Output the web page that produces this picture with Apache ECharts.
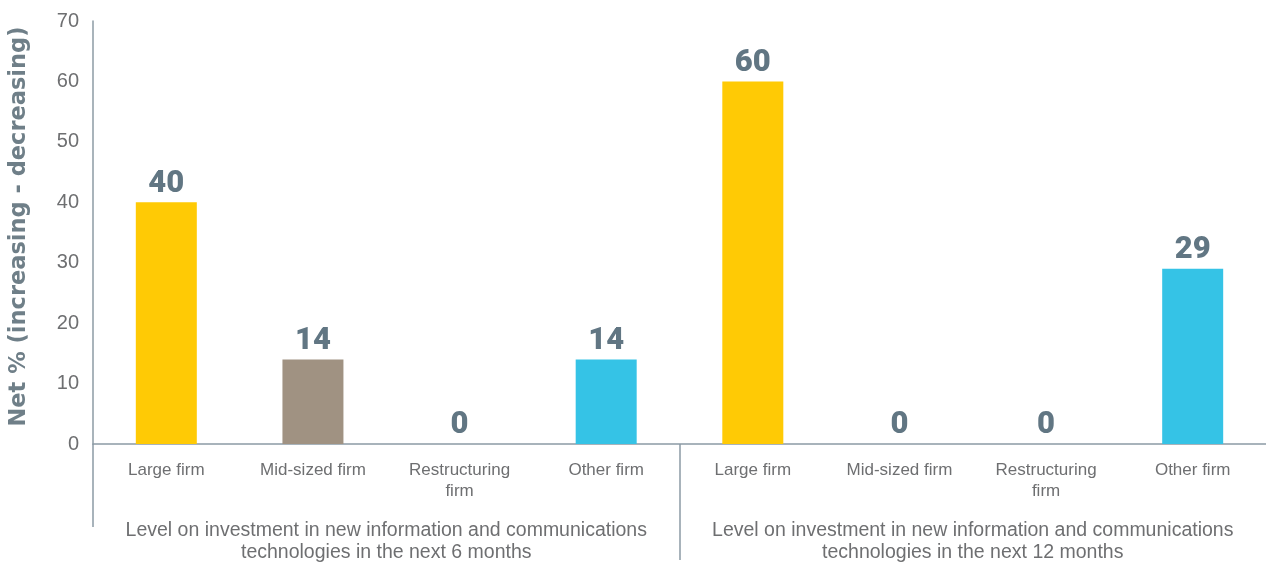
<!DOCTYPE html>
<html>
<head>
<meta charset="utf-8">
<script src="https://cdn.jsdelivr.net/npm/echarts@6/dist/echarts.min.js"></script>
<style>
  html, body { margin: 0; padding: 0; background: #ffffff; }
  #chart { width: 1266px; height: 565px; }
</style>
</head>
<body>
<div id="chart"></div>
<script>
// Firm types, repeated for each time horizon
const firmTypes = ['Large firm', 'Mid-sized firm', 'Restructuring\nfirm', 'Other firm'];
const horizons = [
  'Level on investment in new information and communications\ntechnologies in the next 6 months',
  'Level on investment in new information and communications\ntechnologies in the next 12 months'
];
// Net % (increasing - decreasing), per firm type
const next6Months = [40, 14, 0, 14];
const next12Months = [60, 0, 0, 29];
const yTicks = [0, 10, 20, 30, 40, 50, 60, 70];

// Colour per firm type
const firmColors = ['#FFCA05', '#A09282', '#F2C94C', '#35C3E6'];

const categories = firmTypes.concat(firmTypes);
const values = next6Months.concat(next12Months);

const axisGrey = '#8C9BA5';
const textGrey = '#6E6F71';
const bodyFont = '"Liberation Sans", Arial, sans-serif';
const heavyFont = '"DejaVu Sans", sans-serif';
const figureFont = 'Roboto, "DejaVu Sans", sans-serif';

// Hidden slot axis (one unit per category) used for the rules below the baseline
function ruleAxis(at, len) {
  return {
    type: 'value',
    min: 0,
    max: categories.length,
    position: 'bottom',
    axisLine: { show: false },
    splitLine: { show: false },
    axisLabel: { show: false },
    axisTick: {
      show: true,
      customValues: [at],
      length: len,
      lineStyle: { color: axisGrey, width: 1.5 }
    }
  };
}

const chart = echarts.init(document.getElementById('chart'), null, { renderer: 'canvas' });

chart.setOption({
  animation: false,
  grid: { left: 93, top: 21, width: 1176, bottom: 121, containLabel: false },
  xAxis: [
    {
      type: 'category',
      data: categories,
      position: 'bottom',
      axisLine: { show: true, lineStyle: { color: axisGrey, width: 1.5 } },
      axisTick: { show: false },
      axisLabel: {
        color: textGrey,
        fontFamily: bodyFont,
        fontSize: 17,
        lineHeight: 21,
        margin: 16,
        interval: 0
      }
    },
    // divider between the two horizons
    ruleAxis(firmTypes.length, 116),
    // value axis continued below the baseline
    ruleAxis(0, 83),
    {
      type: 'category',
      data: horizons,
      position: 'bottom',
      axisLine: { show: false },
      axisTick: { show: false },
      axisLabel: {
        color: textGrey,
        fontFamily: bodyFont,
        fontSize: 19.5,
        lineHeight: 22,
        margin: 76,
        interval: 0
      }
    }
  ],
  yAxis: {
    type: 'value',
    min: yTicks[0],
    max: yTicks[yTicks.length - 1],
    interval: 10,
    name: 'Net % (increasing - decreasing)',
    nameLocation: 'middle',
    nameGap: 62,
    nameRotate: 90,
    nameTextStyle: {
      color: '#6F7F88',
      fontFamily: heavyFont,
      fontWeight: 'bold',
      fontSize: 22.5,
      padding: [0, 0, 0, 12]
    },
    axisLine: { show: true, lineStyle: { color: axisGrey, width: 1.5 } },
    axisTick: { show: false },
    splitLine: { show: false },
    axisLabel: {
      color: textGrey,
      fontFamily: bodyFont,
      fontSize: 20,
      margin: 14
    }
  },
  series: [{
    type: 'bar',
    xAxisIndex: 0,
    barWidth: 61,
    data: values.map((v, i) => ({
      value: v,
      itemStyle: { color: firmColors[i % firmTypes.length] }
    })),
    label: {
      show: true,
      position: 'top',
      distance: 3,
      color: '#617683',
      fontFamily: figureFont,
      fontWeight: 900,
      fontSize: 31
    }
  }]
});
</script>
</body>
</html>
